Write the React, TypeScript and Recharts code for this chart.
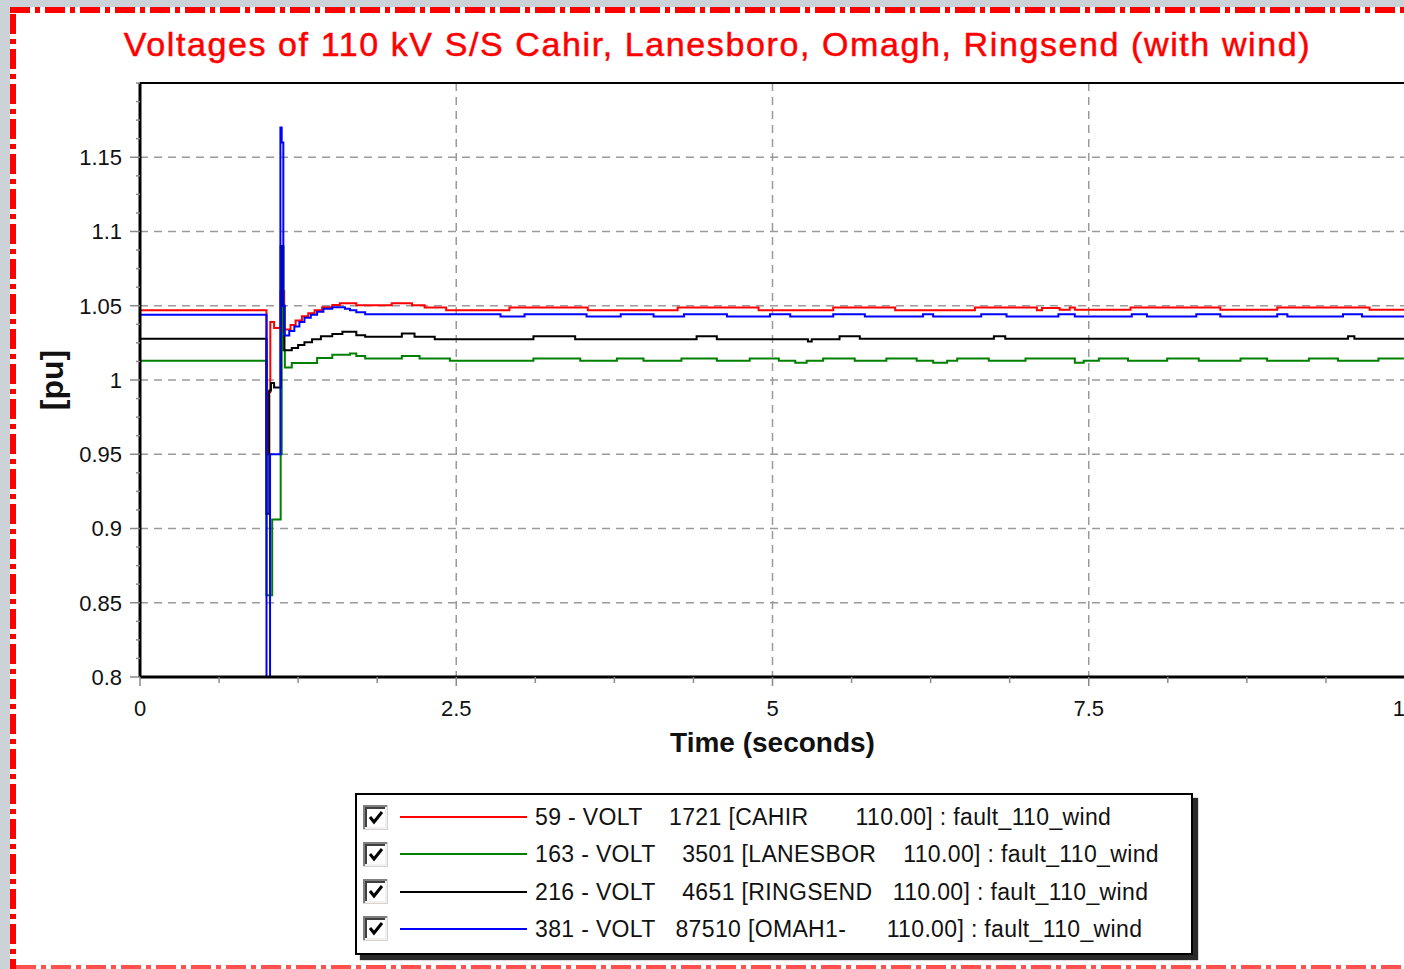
import React from 'react';
import { LineChart, Line, XAxis, YAxis, CartesianGrid, ReferenceLine } from 'recharts';

// tick positions
const xMajor = [0, 2.5, 5, 7.5, 10];
const xMinor = [0.625, 1.25, 1.875, 3.125, 3.75, 4.375, 5.625, 6.25, 6.875, 8.125, 8.75, 9.375];
const yMajor = [0.8, 0.85, 0.9, 0.95, 1, 1.05, 1.1, 1.15];
const yMinor = [
  0.8125, 0.825, 0.8375, 0.8625, 0.875, 0.8875, 0.9125, 0.925, 0.9375, 0.9625, 0.975, 0.9875,
  1.0125, 1.025, 1.0375, 1.0625, 1.075, 1.0875, 1.1125, 1.125, 1.1375, 1.1625, 1.175, 1.1875, 1.2,
];

const seriesLabels = [
  '59 - VOLT    1721 [CAHIR       110.00] : fault_110_wind',
  '163 - VOLT    3501 [LANESBOR    110.00] : fault_110_wind',
  '216 - VOLT    4651 [RINGSEND   110.00] : fault_110_wind',
  '381 - VOLT   87510 [OMAH1-      110.00] : fault_110_wind',
];
const seriesColors = ['#ff0000', '#008000', '#000000', '#0000ff'];

// [time s, voltage pu]
const cahir = [
  [0, 1.047], [1.0, 0.95], [1.018, 0.992], [1.03, 1.039], [1.06, 1.035], [1.112, 1.06], [1.14, 1.034],
  [1.19, 1.037], [1.23, 1.04], [1.28, 1.043], [1.33, 1.045], [1.38, 1.047], [1.44, 1.049], [1.52, 1.0505],
  [1.58, 1.0517], [1.71, 1.0504], [1.99, 1.0517], [2.15, 1.0504], [2.25, 1.0489], [2.42, 1.047],
  [2.92, 1.0489], [3.54, 1.047], [4.25, 1.0489], [4.89, 1.047], [5.48, 1.0489], [5.97, 1.047],
  [6.6, 1.0489], [7.09, 1.047], [7.13, 1.0485], [7.27, 1.0473], [7.35, 1.0489], [7.39, 1.0473],
  [7.83, 1.0489], [8.54, 1.0473], [8.99, 1.0489], [9.72, 1.0473], [10, 1.0473],
];
const lanesboro = [
  [0, 1.013], [1.0, 0.855], [1.045, 0.906], [1.112, 0.95], [1.12, 1.09], [1.135, 1.02], [1.145, 1.0085],
  [1.2, 1.0115], [1.4, 1.0148], [1.52, 1.017], [1.66, 1.0179], [1.71, 1.0161], [1.78, 1.0145],
  [2.07, 1.0161], [2.21, 1.0145], [2.45, 1.0129], [3.11, 1.0145], [3.48, 1.0129], [3.77, 1.0145],
  [3.98, 1.0129], [4.28, 1.0145], [4.56, 1.0129], [4.82, 1.0145], [5.05, 1.0129], [5.18, 1.0116],
  [5.27, 1.0129], [5.4, 1.0145], [5.65, 1.0129], [5.9, 1.0145], [6.14, 1.0129], [6.27, 1.0116],
  [6.38, 1.0129], [6.46, 1.0145], [6.71, 1.0129], [7.0, 1.0145], [7.39, 1.0116], [7.46, 1.0129],
  [7.58, 1.0145], [7.81, 1.0129], [8.12, 1.0145], [8.37, 1.0129], [8.7, 1.0145], [8.91, 1.0129],
  [9.24, 1.0145], [9.47, 1.0129], [9.79, 1.0145], [10, 1.0145],
];
const ringsend = [
  [0, 1.0277], [1.0, 0.91], [1.022, 0.993], [1.035, 0.998], [1.06, 0.995], [1.112, 1.09], [1.13, 1.05],
  [1.142, 1.02], [1.2, 1.0215], [1.25, 1.0235], [1.3, 1.0255], [1.36, 1.0275], [1.43, 1.0295],
  [1.52, 1.031], [1.6, 1.0325], [1.71, 1.0302], [1.78, 1.0291], [2.07, 1.0313], [2.17, 1.0291],
  [2.33, 1.0275], [3.11, 1.0295], [3.44, 1.0275], [4.4, 1.0295], [4.56, 1.0275], [5.28, 1.026],
  [5.31, 1.0275], [5.53, 1.0295], [5.69, 1.0277], [6.75, 1.0295], [6.84, 1.0277], [9.55, 1.0295],
  [9.6, 1.0277], [10, 1.0277],
];
const omagh = [
  [0, 1.044], [1.0, 0.8], [1.028, 0.95], [1.11, 1.17], [1.12, 1.16], [1.133, 1.05], [1.143, 1.03],
  [1.18, 1.033], [1.22, 1.036], [1.26, 1.039], [1.3, 1.042], [1.35, 1.044], [1.4, 1.046], [1.45, 1.048],
  [1.52, 1.049], [1.62, 1.048], [1.66, 1.047], [1.71, 1.0456], [1.78, 1.0443], [2.85, 1.0427],
  [3.04, 1.0443], [3.53, 1.0427], [3.8, 1.0443], [4.06, 1.0427], [4.3, 1.0443], [4.64, 1.0427],
  [4.98, 1.0443], [5.14, 1.0427], [5.48, 1.0443], [5.73, 1.0427], [6.19, 1.0443], [6.27, 1.0427],
  [6.65, 1.0443], [6.85, 1.0427], [7.26, 1.0443], [7.39, 1.0427], [7.84, 1.0443], [7.96, 1.0427],
  [8.35, 1.0443], [8.54, 1.0427], [8.99, 1.0443], [9.07, 1.0427], [9.51, 1.0443], [9.66, 1.0427],
  [10, 1.0427],
];

const allSeries = [cahir, lanesboro, ringsend, omagh];
const toRows = (pts: number[][]) => pts.map(([t, v]) => ({ t, v }));

const FONT = '"Liberation Sans", Arial, sans-serif';
const isIn = (arr: number[], v: number) => arr.some((a) => Math.abs(a - v) < 1e-9);

function XTick(props: any) {
  const { x, y, payload } = props;
  const major = isIn(xMajor, payload.value);
  return (
    <g>
      <line x1={x} x2={x} y1={y} y2={y + (major ? 9 : 6)} stroke="#8a8a8a" strokeWidth={1.5} />
      {major && (
        <text x={x} y={y + 39} textAnchor="middle" fontFamily={FONT} fontSize={22} fill="#111">
          {String(payload.value)}
        </text>
      )}
    </g>
  );
}

function YTick(props: any) {
  const { x, y, payload } = props;
  const major = isIn(yMajor, payload.value);
  return (
    <g>
      <line x1={x - (major ? 10 : 4)} x2={x} y1={y} y2={y} stroke="#8a8a8a" strokeWidth={1.5} />
      {major && (
        <text x={x - 18} y={y} dy="0.36em" textAnchor="end" fontFamily={FONT} fontSize={22} fill="#111">
          {String(payload.value)}
        </text>
      )}
    </g>
  );
}

function CheckBox() {
  return (
    <svg width={25} height={25} style={{ display: 'block' }}>
      <rect x={0} y={0} width={25} height={25} fill="#d8d4cc" />
      <rect x={0} y={0} width={24} height={24} fill="#808080" />
      <rect x={2} y={2} width={22} height={22} fill="#f0f0f0" />
      <rect x={2} y={2} width={20} height={20} fill="#404040" />
      <rect x={4} y={4} width={18} height={18} fill="#ffffff" />
      <polyline points="7,12 11,17 19,7" fill="none" stroke="#000" strokeWidth={3} />
    </svg>
  );
}

function LegendBox() {
  return (
    <div
      style={{
        position: 'absolute', left: 355, top: 793, width: 834, height: 158,
        border: '2px solid #000', background: '#fff', boxShadow: '5px 5px 1px #2a2a2a',
      }}
    >
      {seriesLabels.map((label, i) => (
        <div key={i} style={{ position: 'absolute', left: 6, top: 9 + i * 37.3, height: 26, display: 'flex', alignItems: 'center' }}>
          <CheckBox />
          <div style={{ width: 127, height: 2, background: seriesColors[i], marginLeft: 12 }} />
          <div
            style={{
              marginLeft: 8, fontFamily: FONT, fontSize: 23, whiteSpace: 'pre', color: '#111',
              lineHeight: '26px', letterSpacing: 0.35,
            }}
          >
            {label}
          </div>
        </div>
      ))}
    </div>
  );
}

export default function App() {
  return (
    <div style={{ position: 'relative', width: 1404, height: 969, overflow: 'hidden', background: '#cbd3d8' }}>
      <style>{'body{margin:0;overflow:hidden}'}</style>
      <div style={{ position: 'absolute', left: 10, top: 7, right: 0, bottom: 0, background: '#fff' }} />
      <svg width={1404} height={969} style={{ position: 'absolute', left: 0, top: 0 }}>
        <line x1={10} x2={1404} y1={10} y2={10} stroke="#ff0000" strokeWidth={6} strokeDasharray="20 5 5 5" />
        <line x1={13} x2={13} y1={14} y2={969} stroke="#ff0000" strokeWidth={6} strokeDasharray="20 5 5 5" />
        <line x1={16} x2={1404} y1={967} y2={967} stroke="#ff5050" strokeWidth={4} strokeDasharray="20 5 5 5" />
      </svg>
      <div
        style={{
          position: 'absolute', left: 0, width: 1435, top: 26, textAlign: 'center',
          fontFamily: FONT, fontSize: 34, lineHeight: '36px', color: '#ff0000', letterSpacing: 1.6,
          whiteSpace: 'nowrap', WebkitTextStroke: '0.5px #ff0000',
        }}
      >
        Voltages of 110 kV S/S Cahir, Lanesboro, Omagh, Ringsend (with wind)
      </div>
      <div style={{ position: 'absolute', left: 0, top: 0 }}>
        <LineChart width={1420} height={969} margin={{ top: 83, right: 15, bottom: 197, left: 0 }}>
          <CartesianGrid
            horizontalValues={[0.85, 0.9, 0.95, 1, 1.05, 1.1, 1.15]}
            verticalValues={[2.5, 5, 7.5]}
            stroke="#9a9a9a"
            strokeWidth={1.5}
            strokeDasharray="8 6"
          />
          <XAxis
            dataKey="t"
            type="number"
            domain={[0, 10]}
            ticks={[...xMajor, ...xMinor].sort((a, b) => a - b)}
            interval={0}
            tickSize={0}
            tickMargin={0}
            tickLine={false}
            tick={(p: any) => <XTick {...p} />}
            axisLine={{ stroke: '#000', strokeWidth: 3 }}
            height={95}
            label={{
              value: 'Time (seconds)', position: 'insideBottom', offset: 20,
              style: { fontFamily: FONT, fontSize: 28, fontWeight: 'bold', fill: '#111' },
            }}
          />
          <YAxis
            type="number"
            domain={[0.8, 1.2]}
            ticks={[...yMajor, ...yMinor].sort((a, b) => a - b)}
            interval={0}
            tickSize={0}
            tickMargin={0}
            tickLine={false}
            tick={(p: any) => <YTick {...p} />}
            axisLine={{ stroke: '#000', strokeWidth: 3 }}
            width={140}
            label={{
              value: '[pu]', angle: -90, position: 'insideLeft', offset: 52,
              style: { fontFamily: FONT, fontSize: 32, fontWeight: 'bold', fill: '#111', textAnchor: 'middle' },
            }}
          />
          <ReferenceLine y={1.2} stroke="#000" strokeWidth={2} />
          {allSeries.map((s, i) => (
            <Line
              key={i}
              data={toRows(s)}
              dataKey="v"
              type="stepAfter"
              stroke={seriesColors[i]}
              strokeWidth={2}
              dot={false}
              activeDot={false}
              isAnimationActive={false}
            />
          ))}
        </LineChart>
      </div>
      <LegendBox />
    </div>
  );
}
